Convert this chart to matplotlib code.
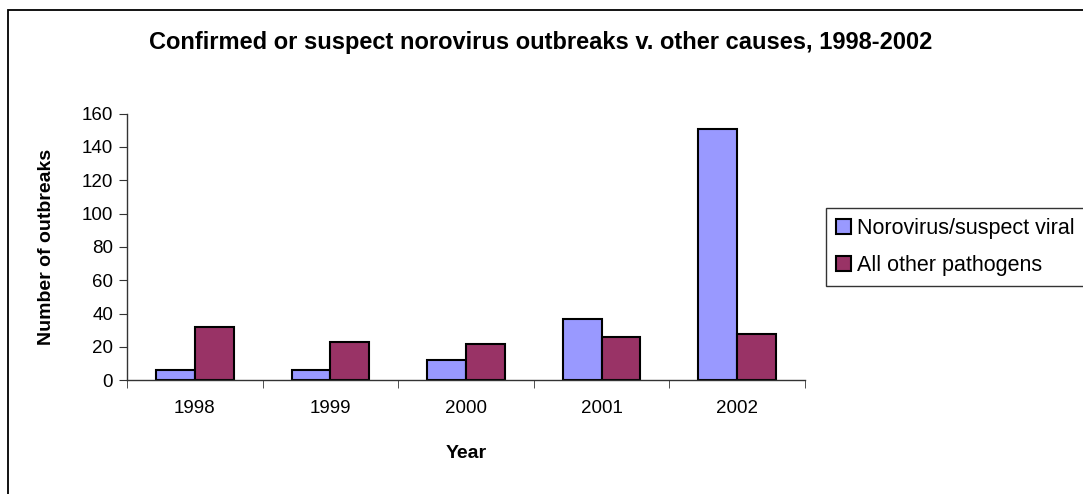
import matplotlib.pyplot as plt
import matplotlib.patches as patches
import numpy as np

# outbreak counts
years = ["1998", "1999", "2000", "2001", "2002"]
norovirus = [6, 6, 12, 37, 151]
other_pathogens = [32, 23, 22, 26, 28]
series_names = ["Norovirus/suspect viral", "All other pathogens"]

plt.rcParams["font.family"] = ["Liberation Sans", "DejaVu Sans"]

W, H = 1083, 494
fig = plt.figure(figsize=(W / 100, H / 100), dpi=100)

# outer chart-area border (runs off the right and bottom edge)
fig.patches.append(patches.Rectangle((8 / W, -0.1), 1.2, 1 - 10 / H + 0.1,
                                     transform=fig.transFigure, fill=False,
                                     edgecolor="black", linewidth=1.3))

ax = fig.add_axes([127 / W, 1 - 380.3 / H, 678 / W, 266.7 / H])

x = np.arange(len(years))
width = 0.286
b1 = ax.bar(x - width / 2, norovirus, width, color="#9999ff", edgecolor="black", linewidth=1.5,
            label=series_names[0])
b2 = ax.bar(x + width / 2, other_pathogens, width, color="#993366", edgecolor="black", linewidth=1.5,
            label=series_names[1])

ax.set_xlim(-0.5, len(years) - 0.5)
ax.set_ylim(0, 160)
ax.set_yticks(np.arange(0, 161, 20))
ax.set_xticks(x)
ax.set_xticklabels(years, fontsize=13.5)
ax.tick_params(axis="x", length=0, pad=14)
ax.set_xticks(np.arange(-0.5, len(years)), minor=True)
ax.tick_params(axis="x", which="minor", length=6, color="#333333", direction="out")
ax.tick_params(axis="y", length=6, color="#333333", direction="out", labelsize=13.5, pad=4)

for s in ["top", "right"]:
    ax.spines[s].set_visible(False)
for s in ["left", "bottom"]:
    ax.spines[s].set_color("#333333")
    ax.spines[s].set_linewidth(1.0)

ax.set_xlabel("Year", fontsize=14, fontweight="bold", va="center")
ax.xaxis.set_label_coords(0.5, (380.3 - 453) / 266.7)
ax.set_ylabel("Number of outbreaks", fontsize=14, fontweight="bold", va="center")
ax.yaxis.set_label_coords((47 - 127) / 678, 0.5)

fig.text(541 / W, 1 - 43 / H, "Confirmed or suspect norovirus outbreaks v. other causes, 1998-2002",
         ha="center", va="center", fontsize=17, fontweight="bold")

leg = fig.legend(handles=[b1, b2], loc="upper left", bbox_to_anchor=(826 / W, 1 - 208 / H),
                 fontsize=15.5, frameon=True, fancybox=False, handlelength=0.7, handleheight=0.7,
                 handletextpad=0.3, borderpad=0.45, labelspacing=0.75, borderaxespad=0)
leg.get_frame().set_edgecolor("black")
leg.get_frame().set_linewidth(1.0)

plt.savefig("out.png", dpi=100)
